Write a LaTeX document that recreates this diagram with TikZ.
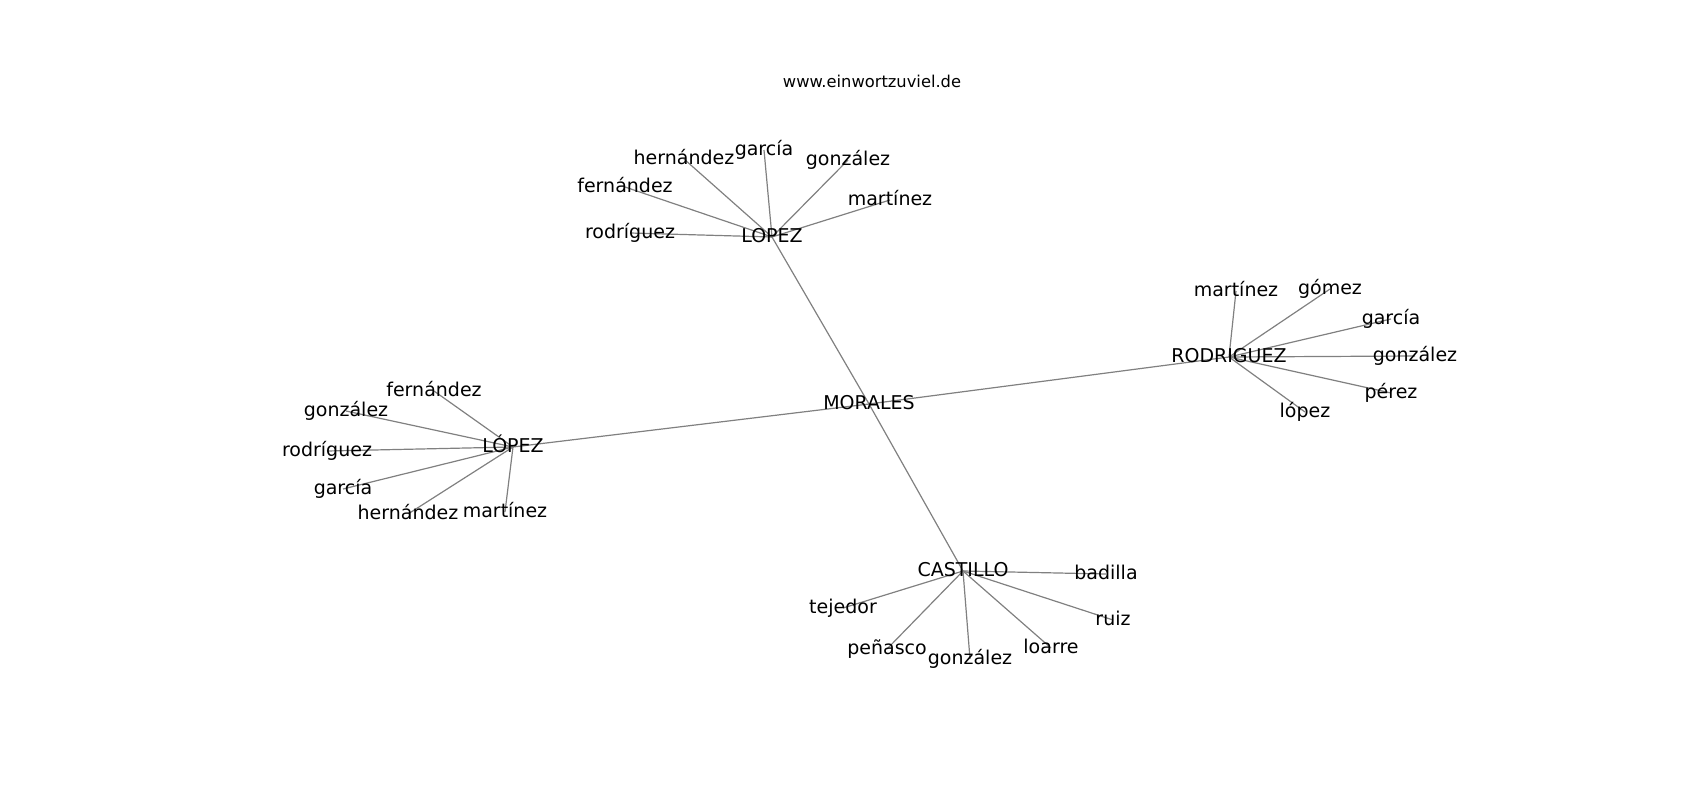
\documentclass[tikz,border=0pt]{standalone}
\usepackage{fontspec}
\setmainfont{DejaVu Sans}
\usetikzlibrary{backgrounds}
\tikzset{
  lbl/.style={inner sep=0pt, text height=15pt, text depth=5pt, font=\fontsize{19}{23}\selectfont, text=black},
  ttl/.style={inner sep=0pt, text height=13pt, text depth=3pt, font=\fontsize{16.3}{20}\selectfont, text=black},
  edge/.style={draw=black!50, line width=1.2pt}
}
\begin{document}
\begin{tikzpicture}[x=1pt,y=-1pt]
\useasboundingbox (0,0) rectangle (1700,800);
\node[ttl] (title) at (872,83) {www.einwortzuviel.de};
% hubs
\node[lbl] (mor) at (869,404) {MORALES};
\node[lbl] (lop) at (772,237) {LOPEZ};
\node[lbl] (rod) at (1229,357) {RODRIGUEZ};
\node[lbl] (lopa) at (513,447) {LÓPEZ};
\node[lbl] (cas) at (963,571) {CASTILLO};
% LOPEZ leaves
\node[lbl] (l1) at (684,159) {hernández};
\node[lbl] (l2) at (764,150) {garcía};
\node[lbl] (l3) at (848,160) {gonzález};
\node[lbl] (l4) at (890,200) {martínez};
\node[lbl] (l5) at (625,187) {fernández};
\node[lbl] (l6) at (630,233) {rodríguez};
% RODRIGUEZ leaves
\node[lbl] (r1) at (1236,291) {martínez};
\node[lbl] (r2) at (1330,289) {gómez};
\node[lbl] (r3) at (1391,319) {garcía};
\node[lbl] (r4) at (1415,356) {gonzález};
\node[lbl] (r5) at (1391,393) {pérez};
\node[lbl] (r6) at (1305,412) {lópez};
% LÓPEZ leaves
\node[lbl] (a1) at (434,391) {fernández};
\node[lbl] (a2) at (346,411) {gonzález};
\node[lbl] (a3) at (327,451) {rodríguez};
\node[lbl] (a4) at (343,489) {garcía};
\node[lbl] (a5) at (408,514) {hernández};
\node[lbl] (a6) at (505,512) {martínez};
% CASTILLO leaves
\node[lbl] (c1) at (1106,574) {badilla};
\node[lbl] (c2) at (1113,620) {ruiz};
\node[lbl] (c3) at (1051,648) {loarre};
\node[lbl] (c4) at (970,659) {gonzález};
\node[lbl] (c5) at (887,649) {peñasco};
\node[lbl] (c6) at (843,608) {tejedor};
\begin{pgfonlayer}{background}
\foreach \h in {lop,rod,lopa,cas} \draw[edge] (mor.center) -- (\h.center);
\foreach \l in {l1,l2,l3,l4,l5,l6} \draw[edge] (lop.center) -- (\l.center);
\foreach \l in {r1,r2,r3,r4,r5,r6} \draw[edge] (rod.center) -- (\l.center);
\foreach \l in {a1,a2,a3,a4,a5,a6} \draw[edge] (lopa.center) -- (\l.center);
\foreach \l in {c1,c2,c3,c4,c5,c6} \draw[edge] (cas.center) -- (\l.center);
\end{pgfonlayer}
\end{tikzpicture}
\end{document}
